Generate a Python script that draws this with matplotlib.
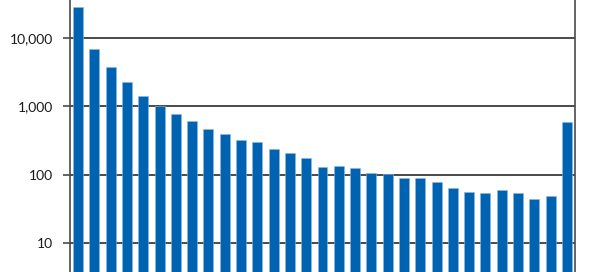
import numpy as np
import matplotlib.pyplot as plt
from matplotlib.ticker import FixedLocator, FuncFormatter, NullLocator

# bar values (log scale)
values = [28400, 6840, 3780, 2250, 1410, 1000, 778, 608, 464, 397,
          324, 300, 240, 207, 173, 131, 135, 126, 106, 102,
          90, 88, 77, 63, 56, 54, 59, 54, 44, 48, 588]
yticks = [10, 100, 1000, 10000]

x = np.arange(len(values))

fig = plt.figure(figsize=(6.0, 2.72), dpi=100)
ax = fig.add_axes([70 / 600, 0.0, 505 / 600, 1.0])

ax.bar(x, values, width=0.61, color='#0063b1', edgecolor='#8ab8e0',
       linewidth=0.4, zorder=3)

ax.set_yscale('log')
ax.set_ylim(3.77, 35900)
ax.set_xlim(-0.5, len(values) - 0.5)

ax.yaxis.set_major_locator(FixedLocator(yticks))
ax.yaxis.set_minor_locator(NullLocator())
ax.yaxis.set_major_formatter(FuncFormatter(lambda v, p: f'{int(v):,}'))
ax.grid(axis='y', color='#4a4a4a', linewidth=1.4, zorder=1)

ax.set_xticks([])
ax.tick_params(axis='y', length=5, width=1.2, color='#4a4a4a', pad=7,
               labelsize=10, labelcolor='#1a1a1a')
for lab in ax.get_yticklabels():
    lab.set_family('Lato')

for side in ['top', 'bottom']:
    ax.spines[side].set_visible(False)
for side in ['left', 'right']:
    ax.spines[side].set_color('#4a4a4a')
    ax.spines[side].set_linewidth(1.2)

fig.savefig('out.png', dpi=100)
